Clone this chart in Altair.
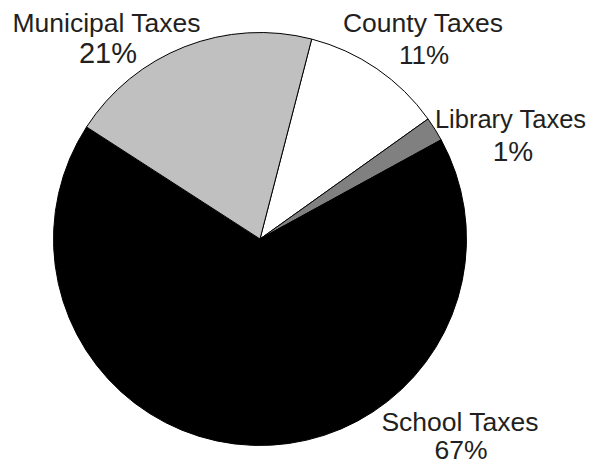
import math
import altair as alt
import pandas as pd

# ---- data ----
categories = ["County Taxes", "Library Taxes", "School Taxes", "Municipal Taxes"]
shares = [11.1, 1.9, 67.1, 19.9]          # slice sizes
pct_labels = ["11%", "1%", "67%", "21%"]   # printed labels
fills = ["#ffffff", "#808080", "#000000", "#c0c0c0"]

# ---- layout (chart pixel coordinates) ----
CX, CY, R = 252, 231, 206.5
START = math.radians(14.5)
name_pos = [(415, 24), (502.5, 120), (452, 423), (98.5, 24)]
name_size = [26.5, 25.5, 26.5, 26.5]
pct_pos = [(416, 56), (505, 152.5), (453, 451), (100, 55.3)]
pct_size = [26, 28, 26.5, 29]

df = pd.DataFrame({
    "cat": categories,
    "value": shares,
    "ord": list(range(len(categories))),
})

lab = pd.DataFrame({
    "cat": categories,
    "pct": pct_labels,
    "nx": [p[0] for p in name_pos],
    "ny": [p[1] for p in name_pos],
    "ns": name_size,
    "px": [p[0] for p in pct_pos],
    "py": [p[1] for p in pct_pos],
    "ps": pct_size,
})

pie = alt.Chart(df).mark_arc(
    outerRadius=R, stroke="#000000", strokeWidth=1
).encode(
    theta=alt.Theta("value:Q", stack=True,
                    scale=alt.Scale(range=[START, START + 2 * math.pi])),
    order=alt.Order("ord:Q"),
    color=alt.Color("cat:N", scale=alt.Scale(domain=categories, range=fills), legend=None),
    x=alt.value(CX),
    y=alt.value(CY),
)

names = alt.Chart(lab).mark_text(
    font="Liberation Sans", color="#231f20",
    align="center", baseline="alphabetic"
).encode(
    x=alt.X("nx:Q", scale=None),
    y=alt.Y("ny:Q", scale=None),
    size=alt.Size("ns:Q", scale=None, legend=None),
    text="cat:N",
)

pcts = alt.Chart(lab).mark_text(
    font="Liberation Sans", color="#231f20",
    align="center", baseline="alphabetic"
).encode(
    x=alt.X("px:Q", scale=None),
    y=alt.Y("py:Q", scale=None),
    size=alt.Size("ps:Q", scale=None, legend=None),
    text="pct:N",
)

chart = alt.layer(pie, names, pcts).properties(
    width=579, height=457, autosize="none", padding=0
).configure_view(stroke=None)

chart.save("out.html", embed_options={"renderer": "svg", "actions": False})
